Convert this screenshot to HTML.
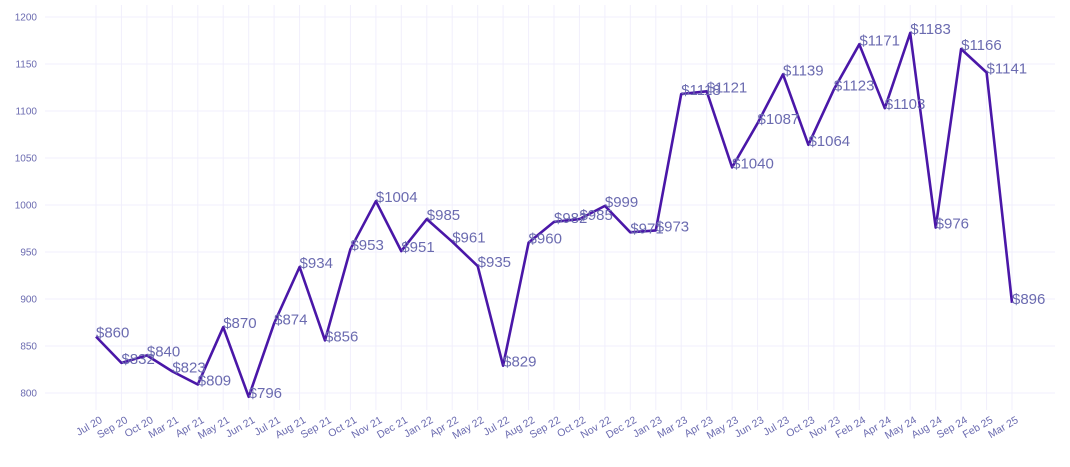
<!DOCTYPE html>
<html><head><meta charset="utf-8"><style>
html,body{margin:0;padding:0;background:#fff;}
svg{display:block;font-family:"Liberation Sans",sans-serif;}
</style></head><body>
<svg id="chart" width="1070" height="467" viewBox="0 0 1070 467">
<g id="grid"></g>
<g id="yaxis"></g>
<g id="xaxis"></g>
<g id="series"></g>
<g id="labels"></g>
</svg>
<script>
const categories = ["Jul 20","Sep 20","Oct 20","Mar 21","Apr 21","May 21","Jun 21","Jul 21","Aug 21","Sep 21","Oct 21","Nov 21","Dec 21","Jan 22","Apr 22","May 22","Jul 22","Aug 22","Sep 22","Oct 22","Nov 22","Dec 22","Jan 23","Mar 23","Apr 23","May 23","Jun 23","Jul 23","Oct 23","Nov 23","Feb 24","Apr 24","May 24","Aug 24","Sep 24","Feb 25","Mar 25"];
const values = [860,832,840,823,809,870,796,874,934,856,953,1004,951,985,961,935,829,960,982,985,999,971,973,1118,1121,1040,1087,1139,1064,1123,1171,1103,1183,976,1166,1141,896];
const yTicks = [800,850,900,950,1000,1050,1100,1150,1200];

const NS="http://www.w3.org/2000/svg";
const x0=96, x1=1012, yMin=800, yMax=1200, yB=393, yT=17;
function xs(i){return x0+(x1-x0)*i/(categories.length-1);}
function ys(v){return yB-(v-yMin)/(yMax-yMin)*(yB-yT);}
function mk(tag,attrs,parent){const e=document.createElementNS(NS,tag);for(const k in attrs)e.setAttribute(k,attrs[k]);parent.appendChild(e);return e;}
const grid=document.getElementById('grid'),ya=document.getElementById('yaxis'),xa=document.getElementById('xaxis'),se=document.getElementById('series'),lb=document.getElementById('labels');

yTicks.forEach(t=>{
  const l=mk('line',{x1:45,x2:1055,y1:ys(t),y2:ys(t),stroke:'#f1effc','stroke-width':1},grid);
  
  
  const tx=mk('text',{x:37,y:ys(t)+3.5,'text-anchor':'end','font-size':10,fill:'#6b6bb0'},ya);
  tx.textContent=t;
  
  
});
categories.forEach((c,i)=>{
  const l=mk('line',{x1:xs(i),x2:xs(i),y1:5,y2:410,stroke:'#f1effc','stroke-width':1},grid);
  
  
  const ax=xs(i)+7, ay=422;
  const tx=mk('text',{x:ax,y:ay,'text-anchor':'end','font-size':10.5,fill:'#6b6bb0',transform:`rotate(-30 ${ax} ${ay})`},xa);
  tx.textContent=c;
  
  
});
const pts=values.map((v,i)=>xs(i).toFixed(1)+','+ys(v).toFixed(1)).join(' ');
const pl=mk('polyline',{points:pts,fill:'none',stroke:'#4a17a8','stroke-width':2.6,'stroke-linejoin':'round'},se);


values.forEach((v,i)=>{
  const tx=mk('text',{x:xs(i),y:ys(v)+1,'font-size':15,fill:'#6b6bb0'},lb);
  tx.textContent='$'+v;
  
  
});
</script>
</body></html>
